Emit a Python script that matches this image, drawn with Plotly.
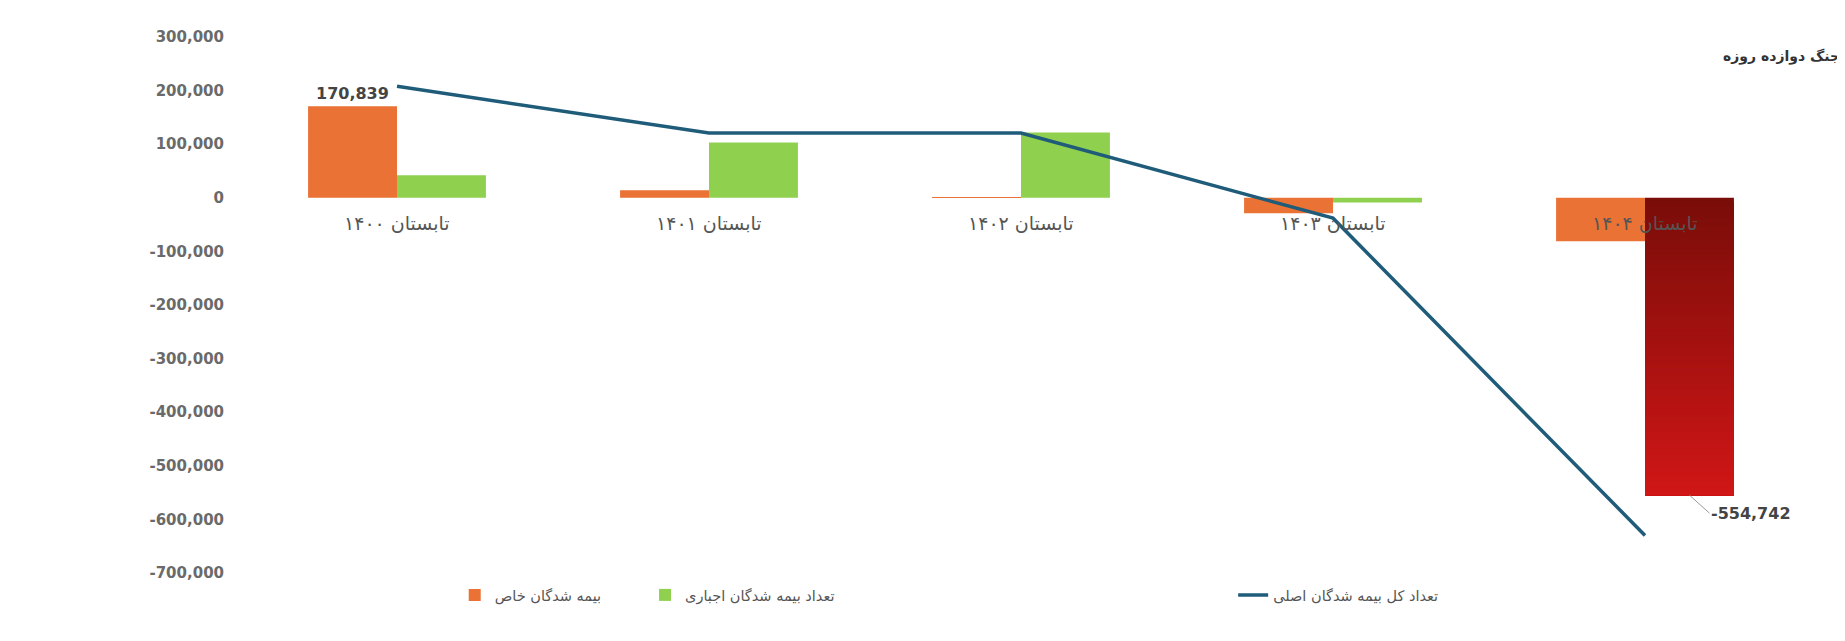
import plotly.graph_objects as go

# data
categories = ['تابستان ۱۴۰۰', 'تابستان ۱۴۰۱', 'تابستان ۱۴۰۲', 'تابستان ۱۴۰۳', 'تابستان ۱۴۰۴']
special_insured = [170839, 14000, 1200, -29000, -81000]
mandatory_insured = [42000, 103000, 122000, -9000, -554742]
total_main_insured = [208000, 121000, 121000, -38000, -630000]
y_ticks = list(range(-700000, 300001, 100000))

names = ['بیمه شدگان خاص', 'تعداد بیمه شدگان اجباری', 'تعداد کل بیمه شدگان اصلی']
title_text = 'جنگ دوازده روزه'

ORANGE = '#E97234'
GREEN = '#8FD14F'
LINE = '#1F5C7A'
BAR_W = 0.285
N_SLICES = 80
LABEL_FONT = dict(family='DejaVu Sans', size=16, color='#444444', weight='bold')

fig = go.Figure()

fig.add_trace(go.Bar(
    x=categories, y=special_insured,
    offset=-BAR_W, width=BAR_W,
    marker=dict(color=ORANGE, line=dict(width=0)),
    name=names[0], legend='legend'
))

# last bar of the mandatory series is highlighted with a red gradient
green_colors = [GREEN] * (len(categories) - 1) + ['rgba(0,0,0,0)']
fig.add_trace(go.Bar(
    x=categories, y=mandatory_insured,
    offset=0, width=BAR_W,
    marker=dict(color=green_colors, line=dict(width=0)),
    name=names[1], legend='legend2'
))

# gradient: each slice runs from its start to the bar end, later ones drawn on top
last_val = mandatory_insured[-1]
top_rgb = (122, 13, 9)
bot_rgb = (208, 22, 22)
slice_colors = []
for k in range(N_SLICES):
    t = k / (N_SLICES - 1)
    c = [round(top_rgb[i] + (bot_rgb[i] - top_rgb[i]) * t) for i in range(3)]
    slice_colors.append(f'rgb({c[0]},{c[1]},{c[2]})')
fig.add_trace(go.Bar(
    x=[categories[-1]] * N_SLICES,
    base=[last_val * k / N_SLICES for k in range(N_SLICES)],
    y=[last_val * (1 - k / N_SLICES) for k in range(N_SLICES)],
    offset=0, width=BAR_W,
    marker=dict(color=slice_colors, line=dict(width=0)),
    showlegend=False, hoverinfo='skip'
))

fig.add_trace(go.Scatter(
    x=categories, y=total_main_insured,
    mode='lines',
    line=dict(color=LINE, width=3.5),
    name=names[2], legend='legend3'
))

# category labels sit just under the zero line
for cat in categories:
    fig.add_annotation(
        x=cat, y=0, yanchor='top', yshift=-12, showarrow=False,
        text=cat, font=dict(family='DejaVu Sans', size=19, color='#555555')
    )

fig.add_annotation(
    x=categories[0], y=special_insured[0], yanchor='bottom', yshift=1,
    xshift=-BAR_W * 156, showarrow=False,
    text=f'{special_insured[0]:,}', font=LABEL_FONT
)
fig.add_annotation(
    x=categories[-1], y=last_val, xshift=BAR_W * 156,
    showarrow=True, arrowhead=0, arrowwidth=1, arrowcolor='#999999',
    ax=20, ay=18, xanchor='left',
    text=f'{last_val:,}', font=LABEL_FONT
)

fig.add_annotation(
    xref='paper', yref='paper', x=0.9487, y=0.964,
    xanchor='left', yanchor='middle', showarrow=False,
    text=f'<b>{title_text}</b>',
    font=dict(family='DejaVu Sans', size=14, color='#333333')
)

legend_style = dict(orientation='h', yanchor='middle', y=-0.041, xanchor='left',
                    font=dict(family='DejaVu Sans', size=14.5, color='#555555'),
                    bgcolor='rgba(0,0,0,0)')

fig.update_layout(
    width=1845, height=641,
    margin=dict(l=233, r=52, t=29, b=76),
    paper_bgcolor='white', plot_bgcolor='white',
    barmode='overlay',
    showlegend=True,
    legend=dict(legend_style, x=0.137),
    legend2=dict(legend_style, x=0.259),
    legend3=dict(legend_style, x=0.636),
    xaxis=dict(showticklabels=False, showgrid=False, zeroline=False,
               showline=False, ticks='', range=[-0.5, 4.5]),
    yaxis=dict(range=[-700000, 300000], tickvals=y_ticks,
               ticktext=[f'{v:,}' for v in y_ticks],
               showgrid=False, zeroline=False, showline=False,
               ticklabelstandoff=16,
               tickfont=dict(family='DejaVu Sans', size=15,
                             color='#6a6a6a', weight='bold')),
)

fig.write_html('out.html')
